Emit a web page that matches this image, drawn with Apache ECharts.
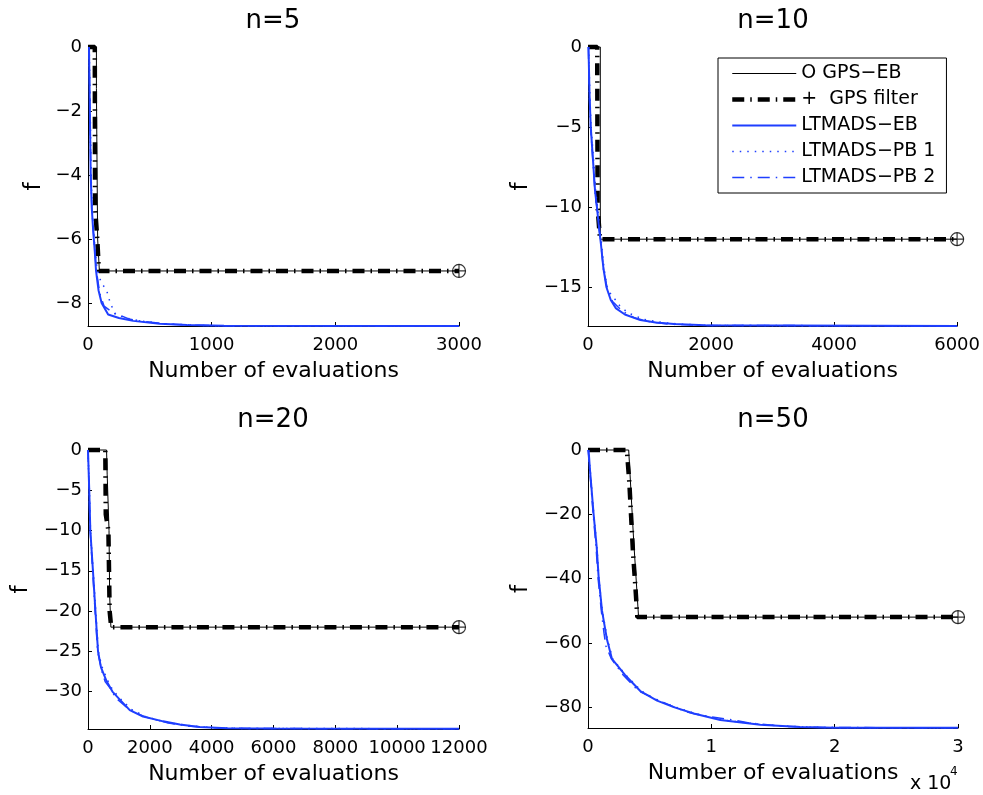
<!DOCTYPE html>
<html><head><meta charset="utf-8">
<script src="https://cdn.jsdelivr.net/npm/echarts@6/dist/echarts.min.js"></script>
<style>html,body{margin:0;padding:0;background:#fff}#c{width:983px;height:795px}</style>
</head><body><div id="c"></div>
<script>
// ---------- data ----------
const panelTitles = ['n=5', 'n=10', 'n=20', 'n=50'];
const seriesNames = ['O GPS\u2212EB', '+  GPS filter', 'LTMADS\u2212EB', 'LTMADS\u2212PB 1', 'LTMADS\u2212PB 2'];
const xLabel = 'Number of evaluations';
const yLabel = 'f';

const xMax = [3000, 6000, 12000, 30000];
const yMin = [-8.72, -17.42, -34.65, -86.5];
const xTicks5 = [0, 1000, 2000, 3000];
const xTicks10 = [0, 2000, 4000, 6000];
const xTicks20 = [0, 2000, 4000, 6000, 8000, 10000, 12000];
const xTicks50 = [0, 10000, 20000, 30000];
const yTicks5 = [0, -2, -4, -6, -8];
const yTicks10 = [0, -5, -10, -15];
const yTicks20 = [0, -5, -10, -15, -20, -25, -30];
const yTicks50 = [0, -20, -40, -60, -80];

// n=5
const gpsEb5 = [[0,0],[68,0],[68,-1.3],[75,-1.3],[78,-6],[92,-7],[3000,-7]];
const gpsFilter5 = [[0,0],[55,0],[57,-5],[75,-6],[88,-7],[3000,-7]];
const ltEb5 = [[8,0],[15,-2],[22,-4],[30,-5],[43,-5.8],[55,-6.4],[65,-7],[85,-7.6],[110,-8],[163,-8.36],[250,-8.47],[365,-8.56],[580,-8.65],[800,-8.69],[1100,-8.71],[3000,-8.72]];
const ltPb1_5 = [[10,0],[18,-2],[25,-4],[33,-5],[50,-6],[72,-6.9],[105,-7.35],[150,-7.6],[180,-8],[220,-8.35],[300,-8.46],[420,-8.56],[620,-8.65],[900,-8.7],[1200,-8.72],[3000,-8.72]];
const ltPb2_5 = [[8,0],[16,-2],[23,-4],[32,-5.1],[48,-6],[68,-7],[95,-7.7],[130,-8.1],[200,-8.3],[280,-8.42],[330,-8.5],[450,-8.58],[650,-8.66],[1000,-8.71],[3000,-8.72]];
// n=10
const gpsEb10 = [[0,0],[200,0],[200,-12],[6000,-12]];
const gpsFilter10 = [[0,0],[150,0],[156,-10],[195,-12],[6000,-12]];
const ltEb10 = [[8,0],[25,-3],[45,-5],[80,-7],[115,-9],[145,-10],[180,-11.3],[210,-12.3],[250,-13.8],[300,-15],[370,-15.8],[450,-16.3],[600,-16.7],[850,-17.05],[1100,-17.2],[1400,-17.3],[1900,-17.38],[6000,-17.42]];
const ltPb1_10 = [[10,0],[30,-3],[50,-5],[90,-7],[125,-9],[155,-10],[190,-11.3],[220,-12.3],[260,-13.8],[310,-15],[380,-15.5],[450,-15.8],[500,-16.1],[650,-16.6],[900,-17],[1200,-17.2],[1500,-17.3],[2000,-17.39],[6000,-17.42]];
const ltPb2_10 = [[6,0],[22,-3],[42,-5],[78,-7],[112,-9],[150,-10.2],[185,-11.5],[215,-12.5],[255,-14],[320,-15.2],[400,-15.9],[480,-16.2],[560,-16.5],[750,-16.9],[1000,-17.15],[1300,-17.3],[1800,-17.38],[6000,-17.42]];
// n=20
const gpsEb20 = [[0,0],[600,0],[620,-3],[680,-10],[700,-18],[740,-22],[12000,-22]];
const gpsFilter20 = [[0,0],[560,0],[575,-8],[660,-10],[700,-20],[750,-22],[12000,-22]];
const ltEb20 = [[0,0],[40,-5],[75,-10],[160,-15],[240,-20],[324,-25],[420,-27],[600,-28.7],[790,-30],[1030,-31],[1350,-32.3],[1780,-33.1],[2430,-33.7],[2970,-34.1],[3600,-34.4],[4500,-34.55],[6000,-34.6],[12000,-34.62]];
const ltPb1_20 = [[0,0],[45,-5],[80,-10],[170,-15],[250,-20],[335,-25],[440,-26.8],[620,-28.5],[800,-29.8],[1050,-30.9],[1400,-32.2],[1850,-33.1],[2500,-33.8],[3100,-34.15],[3800,-34.45],[5000,-34.58],[12000,-34.62]];
const ltPb2_20 = [[0,0],[35,-5],[70,-10],[150,-15],[230,-20],[310,-25],[450,-27.5],[560,-28.8],[720,-29.6],[900,-30.8],[1200,-31.8],[1500,-32.6],[1900,-33.2],[2600,-33.9],[3300,-34.3],[4300,-34.55],[6000,-34.6],[12000,-34.62]];
// n=50
const gpsEb50 = [[0,0],[3300,0],[3700,-28],[4100,-52],[30000,-52]];
const gpsFilter50 = [[0,0],[3150,0],[3350,-10],[3500,-21],[3650,-32],[3850,-43],[4000,-52],[30000,-52]];
const ltEb50 = [[50,0],[135,-5],[243,-10],[455,-20],[700,-30],[860,-39.4],[1135,-50],[1540,-59],[1945,-65],[3000,-70],[4240,-75],[5600,-78],[6950,-80],[8570,-82],[10730,-84],[13970,-85.5],[17200,-86.2],[20000,-86.4],[30000,-86.45]];
const ltPb1_50 = [[30,0],[150,-5],[260,-10],[470,-20],[720,-30],[880,-40],[1160,-50],[1580,-59],[2000,-65],[3050,-70],[4350,-75],[5700,-78],[7100,-80],[8700,-82],[10900,-84],[14200,-85.5],[17500,-86.2],[20500,-86.4],[30000,-86.45]];
const ltPb2_50 = [[0,0],[120,-5],[220,-10],[420,-20],[650,-30],[820,-40],[1080,-50],[1300,-57],[1450,-61],[1900,-65],[2850,-70],[4100,-75],[5500,-77.5],[7200,-80.3],[8000,-81.5],[9500,-82.8],[11800,-84],[13200,-85],[16000,-86],[19000,-86.35],[30000,-86.45]];

// ---------- build ----------
const FONT = 'DejaVu Sans';
const BLUE = '#1f3fff';
const panels = [
  {xt: xTicks5,  yt: yTicks5,  s: [gpsEb5, gpsFilter5, ltEb5, ltPb1_5, ltPb2_5]},
  {xt: xTicks10, yt: yTicks10, s: [gpsEb10, gpsFilter10, ltEb10, ltPb1_10, ltPb2_10]},
  {xt: xTicks20, yt: yTicks20, s: [gpsEb20, gpsFilter20, ltEb20, ltPb1_20, ltPb2_20]},
  {xt: xTicks50, yt: yTicks50, s: [gpsEb50, gpsFilter50, ltEb50, ltPb1_50, ltPb2_50]}
];
const grids = [
  {left: 88, top: 47, width: 371, height: 279},
  {left: 588, top: 47, width: 370, height: 279},
  {left: 88, top: 450, width: 371, height: 279},
  {left: 588, top: 450, width: 370, height: 278}
];
const yNameGaps = [42, 55, 55, 55];
const lineStyles = [
  {color: '#000', width: 1, type: 'solid'},
  {color: '#000', width: 4.5, type: [12, 6, 1.5, 6]},
  {color: BLUE, width: 2, type: 'solid'},
  {color: BLUE, width: 1.5, type: [1.5, 6]},
  {color: BLUE, width: 1.5, type: [12, 6, 1.5, 6]}
];
const minus = v => (v < 0 ? '\u2212' + Math.abs(v) : String(v));

const xAxes = [], yAxes = [], series = [];
panels.forEach((p, i) => {
  xAxes.push({
    type: 'value', gridIndex: i, min: 0, max: xMax[i],
    axisLine: {show: true, onZero: false, lineStyle: {color: '#000', width: 1}},
    axisTick: {show: true, inside: true, length: 4, customValues: p.xt, lineStyle: {color: '#000'}},
    axisLabel: {customValues: p.xt, color: '#000', fontSize: 18, fontFamily: FONT, margin: 10,
      formatter: i === 3 ? (v => String(v / 10000)) : (v => String(v))},
    splitLine: {show: false},
    name: xLabel, nameLocation: 'middle', nameGap: 34,
    nameTextStyle: {fontSize: 22, color: '#000', fontFamily: FONT}
  });
  yAxes.push({
    type: 'value', gridIndex: i, min: yMin[i], max: 0,
    axisLine: {show: true, onZero: false, lineStyle: {color: '#000', width: 1}},
    axisTick: {show: true, inside: true, length: 4, customValues: p.yt, lineStyle: {color: '#000'}},
    axisLabel: {customValues: p.yt, color: '#000', fontSize: 18, fontFamily: FONT, margin: 6, formatter: minus},
    splitLine: {show: false},
    name: yLabel, nameLocation: 'middle', nameGap: yNameGaps[i], nameRotate: 90,
    nameTextStyle: {fontSize: 23, color: '#000', fontFamily: FONT}
  });
  p.s.forEach((d, k) => {
    series.push({
      type: 'line', name: seriesNames[k], xAxisIndex: i, yAxisIndex: i,
      data: d, symbol: 'none', showSymbol: false, clip: false, silent: true,
      lineStyle: Object.assign({}, lineStyles[k]), itemStyle: {color: lineStyles[k].color},
      z: 2 + k
    });
  });
  // end markers of GPS runs
  const eEb = p.s[0][p.s[0].length - 1];
  const eF = p.s[1][p.s[1].length - 1];
  series.push({
    type: 'scatter', xAxisIndex: i, yAxisIndex: i, data: [eEb], symbol: 'circle', symbolSize: 13,
    itemStyle: {color: 'rgba(0,0,0,0)', borderColor: '#000', borderWidth: 1.2}, silent: true, z: 10
  });
  series.push({
    type: 'scatter', xAxisIndex: i, yAxisIndex: i, data: [eF],
    symbol: 'path://M6,0L6,12M0,6L12,6', symbolSize: 13,
    itemStyle: {color: 'rgba(0,0,0,0)', borderColor: '#000', borderWidth: 1.2}, silent: true, z: 10
  });
});

const titleStyle = {fontSize: 26, fontWeight: 'normal', color: '#000', fontFamily: FONT};
const option = {
  animation: false,
  backgroundColor: '#fff',
  textStyle: {fontFamily: FONT},
  title: [
    {text: panelTitles[0], left: 273, top: 8, textAlign: 'center', padding: 0, textStyle: titleStyle},
    {text: panelTitles[1], left: 773, top: 8, textAlign: 'center', padding: 0, textStyle: titleStyle},
    {text: panelTitles[2], left: 273, top: 407, textAlign: 'center', padding: 0, textStyle: titleStyle},
    {text: panelTitles[3], left: 773, top: 407, textAlign: 'center', padding: 0, textStyle: titleStyle},
    {text: 'x 10', left: 910, top: 775, padding: 0, textStyle: {fontSize: 19, fontWeight: 'normal', color: '#000', fontFamily: FONT}},
    {text: '4', left: 950, top: 766, padding: 0, textStyle: {fontSize: 12, fontWeight: 'normal', color: '#000', fontFamily: FONT}}
  ],
  legend: {
    orient: 'vertical', left: 718, top: 58, padding: [6, 11, 6, 12],
    itemWidth: 64, itemHeight: 14, itemGap: 7,
    backgroundColor: '#fff', borderColor: '#000', borderWidth: 1, borderRadius: 0,
    textStyle: {fontSize: 19, color: '#000', fontFamily: FONT},
    itemStyle: {opacity: 0},
    selectedMode: false,
    data: seriesNames.map((n, k) => ({name: n, lineStyle: {width: lineStyles[k].width, type: lineStyles[k].type, color: lineStyles[k].color}, itemStyle: {opacity: 0}}))
  },
  grid: grids,
  xAxis: xAxes,
  yAxis: yAxes,
  series: series
};
const chart = echarts.init(document.getElementById('c'), null, {renderer: 'canvas'});
chart.setOption(option);
</script>
</body></html>
